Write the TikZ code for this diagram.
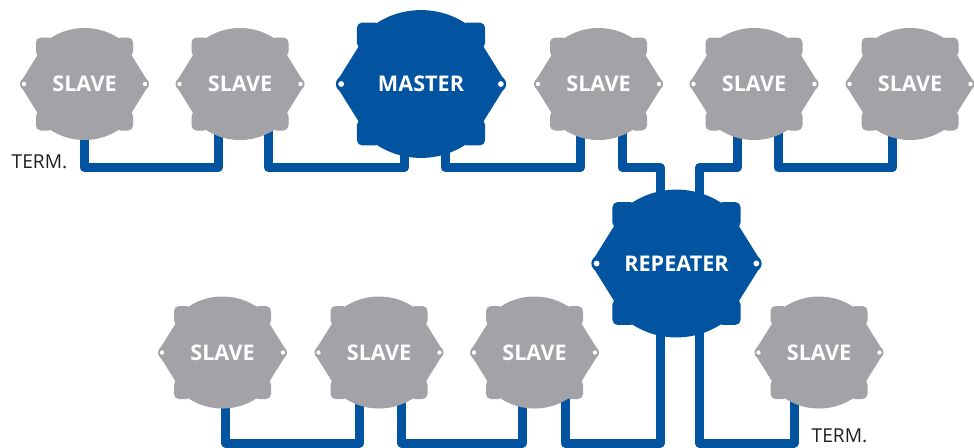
\documentclass[tikz,border=0pt]{standalone}
\usepackage{fontspec}
\setsansfont{Open Sans}
\usetikzlibrary{calc, backgrounds}
\definecolor{slavegray}{RGB}{163,162,167}
\definecolor{busblue}{RGB}{3,84,160}
\definecolor{termblack}{RGB}{35,31,32}
\tikzstyle{wire}     = [busblue, line width=4.5pt, line join=round]
\tikzstyle{unitname} = [text=white, inner sep=0pt, font=\sffamily\bfseries\fontsize{10.8}{12}\selectfont]
\tikzstyle{term}     = [text=termblack, inner sep=0pt, font=\sffamily\fontsize{9.6}{11}\selectfont]
% housing of one unit: domed top and bottom, four corner tabs, pointed sides with an ear
\tikzset{
  pics/housing/.style={code={
    \begin{scope}
      \clip (-44,0) rectangle (44,60);
      \fill[#1] (0,-6) circle (62);
    \end{scope}
    \begin{scope}
      \clip (-44,0) rectangle (44,-60);
      \fill[#1] (0,6) circle (62);
    \end{scope}
    \fill[#1, rounded corners=2pt] (40,40) -- (65,0) -- (40,-40) -- (-40,-40) -- (-65,0) -- (-40,40) -- cycle;
    \fill[#1, rounded corners=2.5pt] (31,27) rectangle (48.5,46.5);
    \fill[#1, rounded corners=2.5pt] (-31,27) rectangle (-48.5,46.5);
    \fill[#1, rounded corners=2.5pt] (31,-27) rectangle (48.5,-46.5);
    \fill[#1, rounded corners=2.5pt] (-31,-27) rectangle (-48.5,-46.5);
    \fill[#1] (-58.5,0) circle (6) (58.5,0) circle (6);
    \fill[white] (-60.5,0) circle (2.2) (60.5,0) circle (2.2);
  }}
}
\begin{document}
\begin{tikzpicture}[x=0.5pt, y=-0.5pt]

\useasboundingbox (0,0) rectangle (974,447);

% upper line
\pic at (84.5,84) {housing=slavegray};
\node[unitname] (S1) at (84.5,84) {SLAVE};
\pic at (240,84) {housing=slavegray};
\node[unitname] (S2) at (240,84) {SLAVE};
\pic[scale=1.32] at (421,84) {housing=busblue};
\node[unitname] (M) at (421,84) {MASTER};
\pic at (598.5,84) {housing=slavegray};
\node[unitname] (S3) at (598.5,84) {SLAVE};
\pic at (754,84) {housing=slavegray};
\node[unitname] (S4) at (754,84) {SLAVE};
\pic at (910,84) {housing=slavegray};
\node[unitname] (S5) at (910,84) {SLAVE};

% repeater
\pic[scale=1.32] at (676.5,263.5) {housing=busblue};
\node[unitname] (R) at (676.5,263.5) {REPEATER};

% lower line
\pic at (222.5,352.5) {housing=slavegray};
\node[unitname] (S6) at (222.5,352.5) {SLAVE};
\pic at (379,352.5) {housing=slavegray};
\node[unitname] (S7) at (379,352.5) {SLAVE};
\pic at (534.5,352.5) {housing=slavegray};
\node[unitname] (S8) at (534.5,352.5) {SLAVE};
\pic at (819,352.5) {housing=slavegray};
\node[unitname] (S9) at (819,352.5) {SLAVE};

\node[term] (T1) at (39.5,161.5) {TERM.};
\node[term] (T2) at (839.5,436) {TERM.};

\begin{scope}[on background layer]
\fill[white] (0,0) rectangle (974,447);

\draw[wire] ($(S1)+(-0.5,0)$) -- ++(0,83.5) -| ($(S2)+(-22,0)$);
\draw[wire] ($(S2)+(28.5,0)$) -- ++(0,83.5) -| ($(M)+(-17,0)$);
\draw[wire] ($(M)+(24.5,0)$) -- ++(0,83.5) -| ($(S3)+(-18.5,0)$);
\draw[wire] ($(S3)+(23.5,0)$) -- ++(0,83.5) -| ($(R)+(-16.5,0)$);
\draw[wire] ($(R)+(23,0)$) -- ++(0,-96) -| ($(S4)+(-17,0)$);
\draw[wire] ($(S4)+(24,0)$) -- ++(0,83.5) -| ($(S5)+(-18,0)$);

\draw[wire] ($(S6)+(3,0)$) -- ++(0,90.5) -| ($(S7)+(-19.5,0)$);
\draw[wire] ($(S7)+(22.5,0)$) -- ++(0,90.5) -| ($(S8)+(-12,0)$);
\draw[wire] ($(S8)+(30.5,0)$) -- ++(0,90.5) -| ($(R)+(-16.5,0)$);
\draw[wire] ($(R)+(23,0)$) -- ++(0,179.5) -| ($(S9)+(-25,0)$);
\end{scope}

\end{tikzpicture}
\end{document}
